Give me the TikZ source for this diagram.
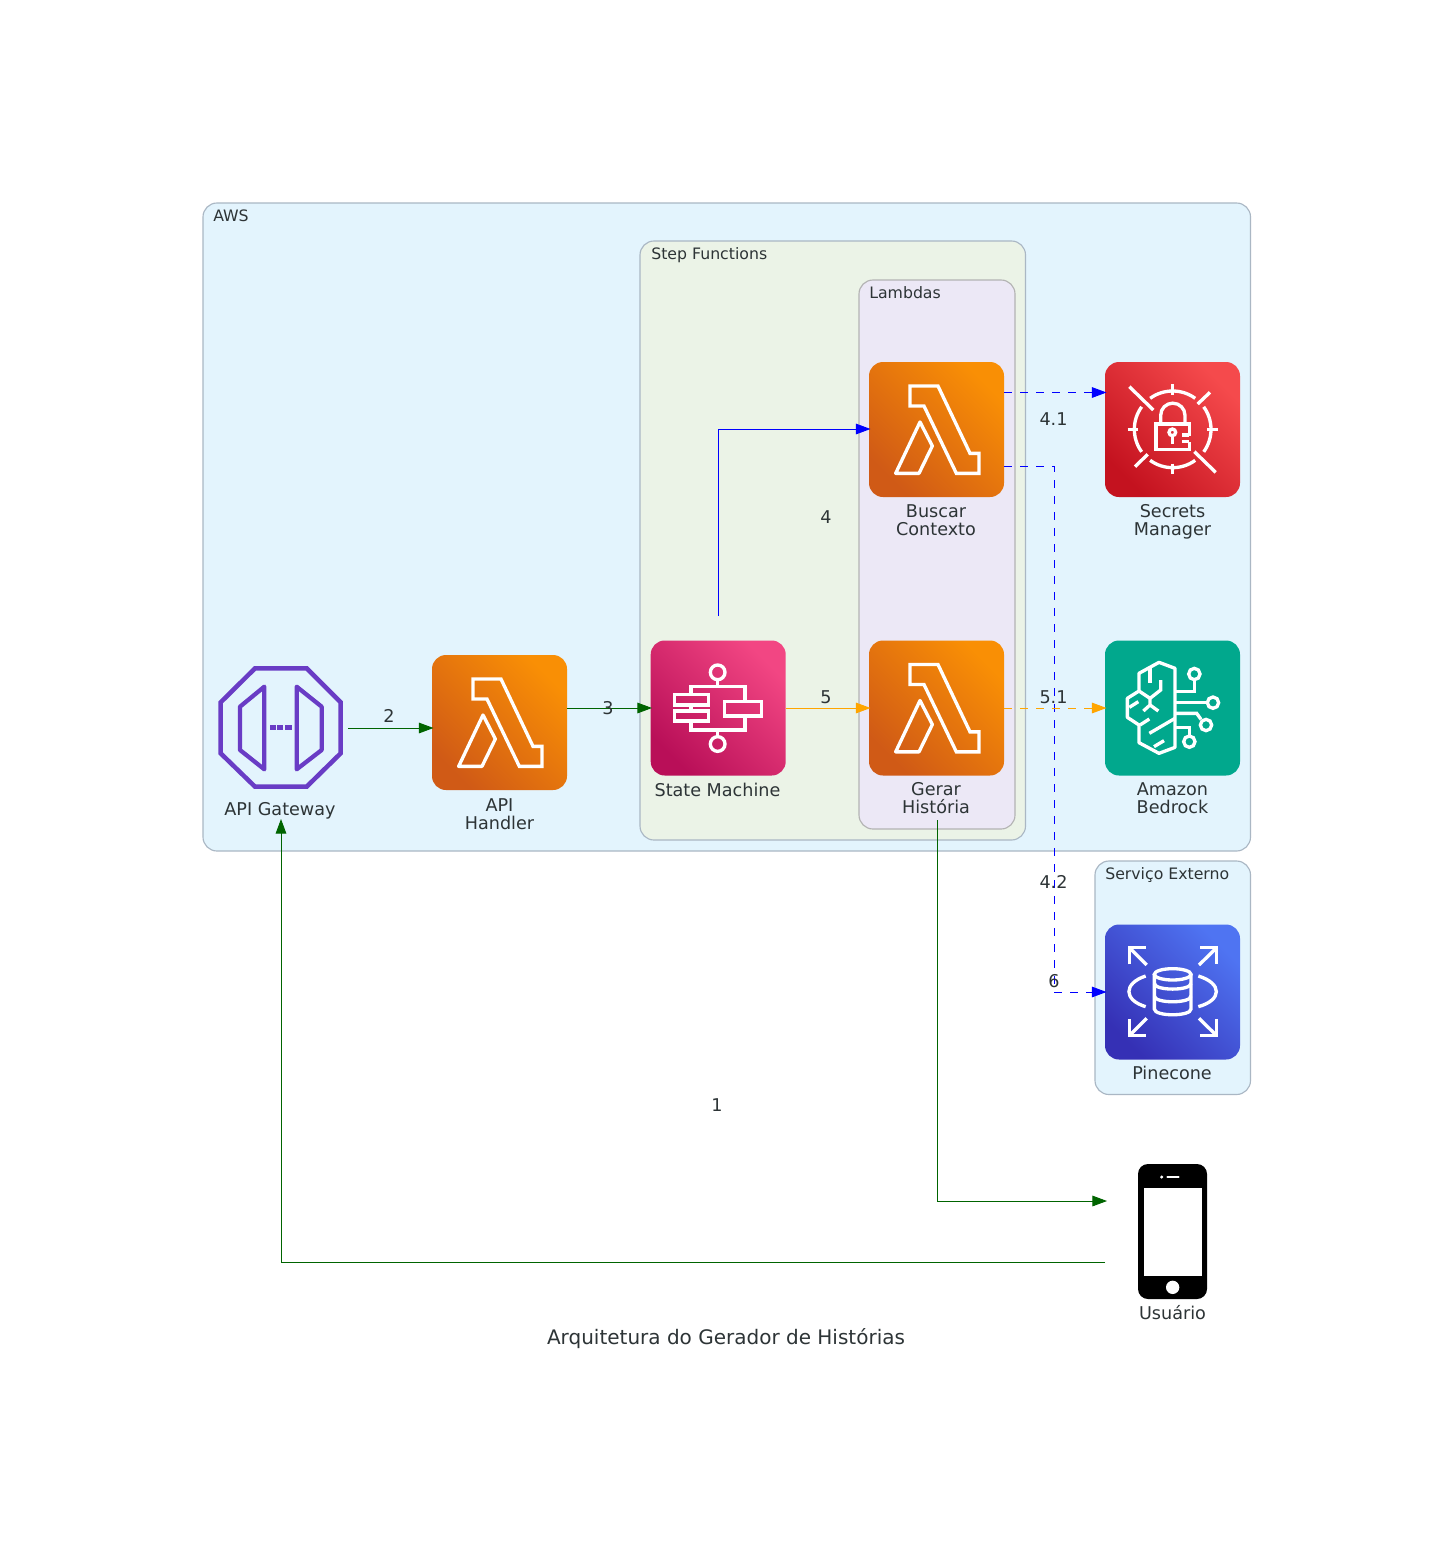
\documentclass[tikz,border=0pt]{standalone}
\usepackage{fontspec}
\setmainfont{DejaVu Sans}
\usetikzlibrary{arrows.meta,calc}
\definecolor{txt}{HTML}{2D3436}
\definecolor{awsfill}{HTML}{E3F4FD}
\definecolor{stepfill}{HTML}{EBF3E7}
\definecolor{lamfill}{HTML}{ECE8F6}
\definecolor{clusterline}{HTML}{AAB7C4}
\definecolor{lamline}{HTML}{B3B3B3}
\definecolor{edgegreen}{HTML}{006400}
\definecolor{edgeblue}{HTML}{0000FF}
\definecolor{edgeorange}{HTML}{FFA500}
\definecolor{gwpurple}{HTML}{693CC5}
\definecolor{lamdark}{HTML}{D05A16}
\definecolor{lamlight}{HTML}{F98F05}
\definecolor{smdark}{HTML}{B90F58}
\definecolor{smlight}{HTML}{F24683}
\definecolor{secdark}{HTML}{C4121F}
\definecolor{seclight}{HTML}{F54A4C}
\definecolor{pinedark}{HTML}{3530B5}
\definecolor{pinelight}{HTML}{4F74F2}
\definecolor{bedrockgreen}{HTML}{01A88D}
\tikzset{
  x=0.75pt,y=-0.75pt,
  cluster/.style={rounded corners=10.5pt,line width=0.85pt},
  clabel/.style={text=txt,font=\fontsize{11.8}{14}\selectfont,anchor=west,inner sep=0pt},
  ilabel/.style={text=txt,font=\fontsize{13.2}{13.5}\selectfont,align=center,inner sep=0pt},
  elabel/.style={text=txt,font=\fontsize{13.2}{14}\selectfont,inner sep=0pt},
  iconbox/.style 2 args={rectangle,rounded corners=10.5pt,minimum size=101.25pt,inner sep=0pt,outer sep=0pt,
    top color=#2,bottom color=#1,shading angle=-45},
  flatbox/.style={rectangle,rounded corners=10.5pt,minimum size=101.25pt,inner sep=0pt,outer sep=0pt,fill=#1},
  ghost/.style={rectangle,minimum size=101.25pt,inner sep=0pt,outer sep=0pt},
  iconline/.style={draw=white,line width=2.5pt,line join=miter},
  cedge/.style={line width=0.7pt,-{Triangle[length=11pt,width=8pt]},color=#1},
  dashedge/.style={cedge=#1,dash pattern=on 6.3pt off 5.7pt},
  zoomgrid/.style={x=0.25pt,y=-0.25pt},
}
\newcommand{\lambdaicon}[1]{%
  \begin{scope}[shift={(#1.north west)},zoomgrid]
    \draw[iconline] (123,72)--(207,72)--(303,274)--(330,274)--(330,334)--(262,334)--(165,132)--(123,132)--cycle;
    \draw[iconline,line join=round] (153,180)--(190,252)--(150,334)--(80,334)--cycle;
  \end{scope}}
\begin{document}
\begin{tikzpicture}
\path[use as bounding box,fill=white] (0,0) rectangle (1453,1549);
% clusters
\draw[cluster,fill=awsfill,draw=clusterline] (203,203) rectangle (1250.5,851);
\draw[cluster,fill=stepfill,draw=clusterline] (640,241) rectangle (1025.5,840);
\draw[cluster,fill=lamfill,draw=lamline] (859,280) rectangle (1015,829);
\draw[cluster,fill=awsfill,draw=clusterline] (1095,861) rectangle (1250.5,1094.5);
\node[clabel] (awslabel) at (213,216) {AWS};
\node[clabel] (steplabel) at (651,255) {Step Functions};
\node[clabel] (lamlabel) at (869,293) {Lambdas};
\node[clabel] (extlabel) at (1105,875) {Serviço Externo};
% icon nodes
\node[ghost] (gw) at (280.5,727.5) {};
\node[iconbox={lamdark}{lamlight}] (handler) at (499.5,722.5) {};
\node[iconbox={smdark}{smlight}] (sm) at (718.2,708) {};
\node[iconbox={lamdark}{lamlight}] (busca) at (936.5,429.5) {};
\node[iconbox={lamdark}{lamlight}] (gerar) at (936.5,708) {};
\node[iconbox={secdark}{seclight}] (secrets) at (1172.5,429.5) {};
\node[flatbox=bedrockgreen] (bedrock) at (1172.5,708) {};
\node[iconbox={pinedark}{pinelight}] (pine) at (1172.5,992) {};
\node[ghost] (usr) at (1172.5,1232) {};
% gateway
\begin{scope}[shift={(200,640)},zoomgrid]
  \draw[draw=gwpurple,line width=3.4pt,line join=miter] (165,85)--(320,85)--(422,187)--(422,340)--(320,440)--(165,440)--(62,340)--(62,187)--cycle;
  \draw[draw=gwpurple,line width=3.2pt,line join=round] (193,140)--(120,200)--(120,330)--(193,388)--cycle;
  \draw[draw=gwpurple,line width=3.2pt,line join=round] (290,140)--(365,200)--(365,330)--(290,388)--cycle;
  \fill[gwpurple] (210,256) rectangle (228,271);
  \fill[gwpurple] (232,256) rectangle (250,271);
  \fill[gwpurple] (255,256) rectangle (275,271);
\end{scope}
\lambdaicon{handler}
\lambdaicon{busca}
\lambdaicon{gerar}
% state machine
\begin{scope}[shift={(640,630)},zoomgrid]
  \draw[iconline] (233,127) circle[radius=22];
  \draw[iconline] (233,342) circle[radius=22];
  \draw[iconline] (233,149)--(233,170);
  \draw[iconline] (153,193)--(153,170)--(315,170)--(315,215);
  \draw[iconline] (153,273)--(153,300)--(315,300)--(315,258);
  \draw[iconline] (233,300)--(233,320);
  \draw[iconline] (153,225)--(153,243);
  \draw[iconline] (103,193) rectangle (205,225);
  \draw[iconline] (103,243) rectangle (205,273);
  \draw[iconline] (253,215) rectangle (365,258);
\end{scope}
% secrets
\begin{scope}[shift={(1095,350)},zoomgrid]
  \def\R{115}
  \foreach \a in {0,90,180,270}{
    \draw[iconline] (233,238) ++({\R*cos(\a-36)},{\R*sin(\a-36)}) arc[start angle={\a-36},delta angle=72,radius=\R];
  }
  \draw[iconline] (233,103)--(233,135);
  \draw[iconline] (233,341)--(233,373);
  \draw[iconline] (98,238)--(130,238);
  \draw[iconline] (336,238)--(368,238);
  \draw[iconline] (103,110)--(175,180);
  \draw[iconline] (345,127)--(308,162);
  \draw[iconline] (120,350)--(158,313);
  \draw[iconline] (298,305)--(362,367);
  \draw[iconline] (283,257)--(283,222)--(183,222)--(183,298)--(283,298)--(283,275);
  \draw[iconline] (197,222)--(197,196) arc[start angle=180,end angle=360,radius=36.5] --(270,222);
  \draw[iconline] (232,247) circle[radius=10];
  \draw[iconline] (232,257)--(232,281);
  \draw[iconline] (262,255)--(283,255);
  \draw[iconline] (262,275)--(283,275);
\end{scope}
% bedrock
\begin{scope}[shift={(1095,630)},zoomgrid]
  \draw[iconline,line join=round] (240,115)--(192,97)--(132,130)--(132,183)--(97,205)--(97,262)--(132,285)--(132,338)--(192,370)--(240,352)--cycle;
  \draw[iconline] (165,112)--(165,160);
  \draw[iconline] (132,183)--(165,205)--(197,180)--(197,150);
  \draw[iconline] (165,205)--(165,225)--(145,243);
  \draw[iconline] (165,225)--(190,243);
  \draw[iconline] (103,232)--(130,215);
  \draw[iconline] (135,285)--(163,267);
  \draw[iconline] (163,310)--(240,265);
  \draw[iconline] (177,350)--(207,332);
  \draw[iconline] (240,185)--(298,185)--(298,150);
  \draw[iconline] (298,132) circle[radius=17];
  \draw[iconline] (240,218)--(337,218);
  \draw[iconline] (354,218) circle[radius=17];
  \draw[iconline] (240,250)--(305,250)--(318,268);
  \draw[iconline] (333,285) circle[radius=17];
  \draw[iconline] (240,292)--(283,292)--(283,318);
  \draw[iconline] (283,335) circle[radius=17];
\end{scope}
% pinecone
\begin{scope}[shift={(1095,915)},zoomgrid]
  \draw[iconline] (155,150)--(103,98);
  \draw[iconline] (103,148)--(103,98)--(152,98);
  \draw[iconline] (312,150)--(365,98);
  \draw[iconline] (315,98)--(365,98)--(365,148);
  \draw[iconline] (155,310)--(103,362);
  \draw[iconline] (103,312)--(103,362)--(152,362);
  \draw[iconline] (312,310)--(365,362);
  \draw[iconline] (365,312)--(365,362)--(315,362);
  \draw[iconline] (152,183) .. controls (85,205) and (85,255) .. (152,275);
  \draw[iconline] (310,183) .. controls (382,205) and (382,255) .. (310,275);
  \draw[iconline] (233,178) ellipse[x radius=55,y radius=17];
  \draw[iconline] (178,178)--(178,282) .. controls (178,305) and (288,305) .. (288,282)--(288,178);
  \draw[iconline] (178,205) .. controls (178,228) and (288,228) .. (288,205);
  \draw[iconline] (178,243) .. controls (178,266) and (288,266) .. (288,243);
\end{scope}
% phone
\begin{scope}[shift={(1095,1155)},zoomgrid]
  \fill[black,rounded corners=7.5pt] (129,27) rectangle (336,432);
  \fill[white] (146,100) rectangle (321,362);
  \fill[white] (200,66) circle[radius=5];
  \draw[white,line width=1.4pt,line cap=round] (217,67)--(251,67);
  \fill[white] (233,397) circle[radius=20];
\end{scope}
% connector ends
\coordinate (sGerar) at (937,820);
\coordinate (tUsrIn) at (1107,1201);
\coordinate (sUsrOut) at (1105,1262);
\coordinate (tGw) at (281,819);
\coordinate (sSm) at (718.5,616);
\coordinate (tBusca) at (870.5,429);
\coordinate (sB41) at (1004,392.5);
\coordinate (tB41) at (1106.5,392.5);
\coordinate (sB42) at (1004,466);
\coordinate (tB42) at (1106.5,992);
\coordinate (mB42) at (1054,466);
\coordinate (mB42b) at (1054,992);
\coordinate (sHandler) at (567,708);
\coordinate (tSm) at (652,708);
\coordinate (sSmO) at (785.5,708);
\coordinate (tGerar) at (870.5,708);
\coordinate (tBedrock) at (1106.5,708);
\coordinate (tHandler) at (433.5,728);
% connectors
\draw[cedge=edgegreen] (sGerar) |- (tUsrIn);
\draw[cedge=edgegreen] (sUsrOut) -| (tGw);
\draw[cedge=edgegreen] (gw.east |- tHandler) -- (tHandler);
\draw[cedge=edgegreen] (sHandler) -- (tSm);
\draw[cedge=edgeorange] (sSmO) -- (tGerar);
\draw[cedge=edgeblue] (sSm) |- (tBusca);
\draw[dashedge=edgeblue] (sB41) -- (tB41);
\draw[dashedge=edgeblue] (sB42) -- (mB42) -- (mB42b) -- (tB42);
\draw[dashedge=edgeorange] (gerar.east) -- (tBedrock);
% connector labels
\node[elabel] (l1) at (717,1105.5) {1};
\node[elabel] (l2) at (389,715.5) {2};
\node[elabel] (l3) at (608,708) {3};
\node[elabel] (l4) at (826,517.5) {4};
\node[elabel] (l41) at (1053.5,419.5) {4.1};
\node[elabel] (l42) at (1053.5,881.5) {4.2};
\node[elabel] (l5) at (826,697.5) {5};
\node[elabel] (l51) at (1053.5,697.5) {5.1};
\node[elabel] (l6) at (1054,981) {6};
% node labels
\node[ilabel] (tgw) at (280,810.5) {API Gateway};
\node[ilabel] (thandler) at (499.5,814.5) {API\\Handler};
\node[ilabel] (tsm) at (717.5,789.5) {State Machine};
\node[ilabel] (tbusca) at (936,520) {Buscar\\Contexto};
\node[ilabel] (tgerar) at (936,798.5) {Gerar\\História};
\node[ilabel] (tsecrets) at (1172.5,522) {Secrets\\Manager};
\node[ilabel] (tbedrock) at (1172.5,798.5) {Amazon\\Bedrock};
\node[ilabel] (tpine) at (1172,1073) {Pinecone};
\node[ilabel] (tusr) at (1172.5,1313) {Usuário};
\node[text=txt,font=\fontsize{15}{18}\selectfont,inner sep=0pt] (title) at (726,1339) {Arquitetura do Gerador de Histórias};
\end{tikzpicture}
\end{document}
